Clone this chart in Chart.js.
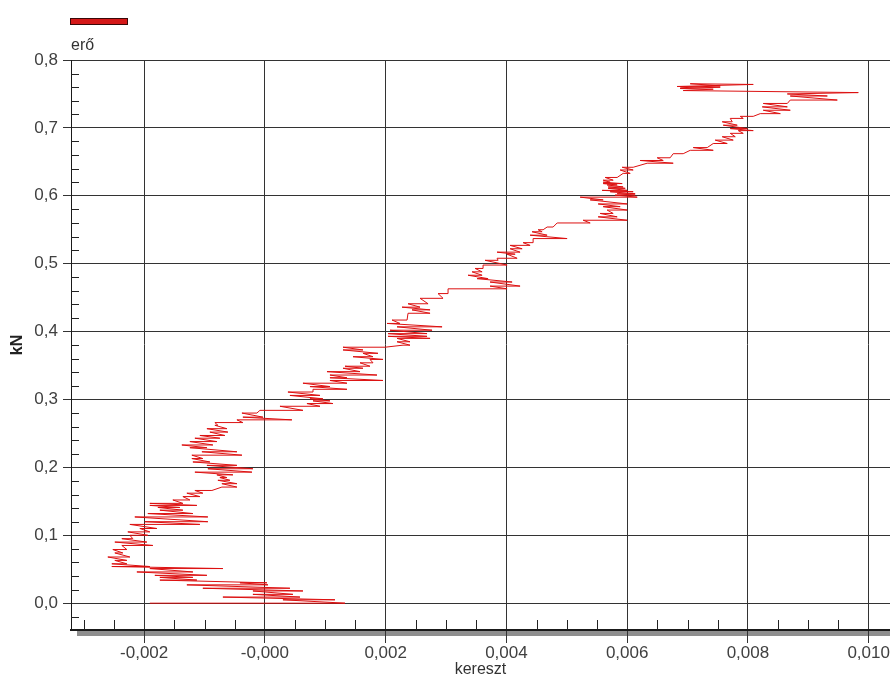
<!DOCTYPE html>
<html>
<head>
<meta charset="utf-8">
<title>erő – kereszt</title>
<script src="https://cdn.jsdelivr.net/npm/chart.js@4/dist/chart.umd.min.js"></script>
<style>
  html, body { margin: 0; padding: 0; background: #ffffff; }
  #wrap { width: 890px; height: 680px; }
</style>
</head>
<body>
<div id="wrap"><canvas id="chart" width="890" height="680"></canvas></div>
<script>
// Series and axis texts
const seriesName = 'erő';
const xTitle = 'kereszt';
const yTitle = 'kN';

// Tick values and their printed labels
const xTickValues = [-0.002, 0, 0.002, 0.004, 0.006, 0.008, 0.010];
const xTickLabels = ['-0,002', '-0,000', '0,002', '0,004', '0,006', '0,008', '0,010'];
const yTickValues = [0, 0.1, 0.2, 0.3, 0.4, 0.5, 0.6, 0.7, 0.8];
const yTickLabels = ['0,0', '0,1', '0,2', '0,3', '0,4', '0,5', '0,6', '0,7', '0,8'];

// Measured path: transverse displacement (kereszt) and force in kN (erő)
const kereszt = [
  -0.001906, 0.001326,  0.000298, 0.001160,  -0.000696, 0.000580,  -0.000199, 0.000464,  -0.000199, 0.000630,
  -0.001028, 0.000414,  -0.001293, 0.000050,  -0.000414, 0.000033,  -0.001740, -0.001127,  -0.001740, -0.001193,
  -0.001823, -0.000961,  -0.002121, -0.001193,  -0.001906, -0.000696,  -0.002536, -0.001906,  -0.002536, -0.002287,
  -0.002486, -0.002287,  -0.002602, -0.002237,  -0.002486, -0.002354,  -0.002519, -0.002287,  -0.002370, -0.001856,
  -0.002486, -0.001956,  -0.002370, -0.002188,  -0.002237, -0.001939,  -0.002271, -0.001906,  -0.002072, -0.001790,
  -0.002237, -0.001077,  -0.001989, -0.000945,  -0.002155, -0.000945,  -0.001939, -0.001193,  -0.001740, -0.001359,
  -0.001773, -0.001409,  -0.001906, -0.001127,  -0.001906, -0.001359,  -0.001525, -0.001243,  -0.001359, -0.001077,
  -0.001293, -0.001028,  -0.001160, -0.000878,  -0.000713, -0.000464,  -0.000713, -0.000464,  -0.000779, -0.000580,
  -0.000746, -0.000630,  -0.000796, -0.000530,  -0.001160, -0.000215,  -0.000945, -0.000199,  -0.000961, -0.000464,
  -0.001193, -0.000912,  -0.001210, -0.001028,  -0.001210, -0.000381,  -0.001044, -0.000464,  -0.001243, -0.000961,
  -0.001376, -0.000862,  -0.001243, -0.000796,  -0.001160, -0.000746,  -0.001077, -0.000663,  -0.000912, -0.000613,
  -0.000961, -0.000630,  -0.000829, -0.000779,  -0.000829, -0.000365,  -0.000464, 0.000447,  -0.000365, -0.000033,
  -0.000381, -0.000133,  -0.000083, 0.000630,  0.000249, 0.000912,  0.000696, 0.001127,  0.000796, 0.001077,
  0.000746, 0.000961,  0.000414, 0.000912,  0.000381, 0.000796,  0.000796, 0.001359,  0.000746, 0.001077,
  0.000630, 0.001359,  0.001077, 0.001956,  0.001077, 0.001359,  0.001077, 0.001856,  0.001028, 0.001575,
  0.001293, 0.001624,  0.001326, 0.001740,  0.001575, 0.001790,  0.001740, 0.001956,  0.001459, 0.001790,
  0.001624, 0.001873,  0.001293, 0.001624,  0.001293, 0.001989,  0.002287, 0.002403,  0.002188, 0.002403,
  0.002188, 0.002735,  0.002039, 0.002685,  0.002039, 0.002685,  0.002072, 0.002768,  0.002188, 0.002934,
  0.002022, 0.002237,  0.002105, 0.002354,  0.002370, 0.002735,  0.002436, 0.002735,  0.002271, 0.002569,
  0.002370, 0.002702,  0.002569, 0.002950,  0.002867, 0.003033,  0.003033, 0.004011,  0.003729, 0.004226,
  0.003729, 0.004094,  0.003514, 0.003696,  0.003365, 0.003597,  0.003431, 0.003597,  0.003481, 0.003613,
  0.003613, 0.004011,  0.003646, 0.003862,  0.003845, 0.004177,  0.004011, 0.004144,  0.003845, 0.004226,
  0.004061, 0.004260,  0.004061, 0.004392,  0.004276, 0.004442,  0.004442, 0.005005,  0.004392, 0.004674,
  0.004425, 0.004591,  0.004525, 0.004608,  0.004674, 0.004773,  0.004840, 0.005387,  0.005271, 0.006000,
  0.005519, 0.005834,  0.005552, 0.005768,  0.005668, 0.006000,  0.005602, 0.005884,  0.005519, 0.006000,
  0.005387, 0.005602,  0.005221, 0.006166,  0.005801, 0.006132,  0.005834, 0.006132,  0.005718, 0.006099,
  0.005585, 0.006000,  0.005685, 0.005967,  0.005685, 0.005933,  0.005668, 0.005834,  0.005602, 0.005917,
  0.005602, 0.005718,  0.005602, 0.005768,  0.005635, 0.005834,  0.005933, 0.006050,  0.005884, 0.006099,
  0.005917, 0.006099,  0.006331, 0.006762,  0.006215, 0.006597,  0.006497, 0.006712,  0.006762, 0.006928,
  0.007044, 0.007425,  0.007094, 0.007326,  0.007425, 0.007657,  0.007458, 0.007756,  0.007574, 0.007790,
  0.007707, 0.007922,  0.007840, 0.008088,  0.007707, 0.007989,  0.007591, 0.007823,  0.007574, 0.007740,
  0.007707, 0.007922,  0.007873, 0.008088,  0.008204, 0.008536,  0.008254, 0.008701,  0.008237, 0.008652,
  0.008254, 0.008652,  0.008701, 0.009480,  0.008701, 0.009315,
  0.008652, 0.009828, 0.006928, 0.007425, 0.006878, 0.007541, 0.006828, 0.008088, 0.007044, 0.007541, 0.006878
];

const ero = [
  0.000, 0.000,  0.005, 0.005,  0.009, 0.009,  0.013, 0.013,  0.018, 0.018,
  0.022, 0.022,  0.027, 0.027,  0.030, 0.030,  0.034, 0.034,  0.038, 0.038,
  0.041, 0.041,  0.046, 0.046,  0.051, 0.051,  0.054, 0.054,  0.058, 0.058,
  0.063, 0.063,  0.068, 0.068,  0.074, 0.074,  0.079, 0.079,  0.085, 0.085,
  0.090, 0.090,  0.095, 0.095,  0.100, 0.100,  0.105, 0.105,  0.110, 0.110,
  0.116, 0.116,  0.120, 0.120,  0.127, 0.127,  0.132, 0.132,  0.137, 0.137,
  0.141, 0.141,  0.144, 0.144,  0.147, 0.147,  0.152, 0.152,  0.157, 0.157,
  0.162, 0.162,  0.166, 0.166,  0.171, 0.171,  0.176, 0.176,  0.181, 0.181,
  0.185, 0.185,  0.189, 0.189,  0.193, 0.193,  0.198, 0.198,  0.203, 0.203,
  0.208, 0.208,  0.213, 0.213,  0.218, 0.218,  0.223, 0.223,  0.229, 0.229,
  0.233, 0.233,  0.238, 0.238,  0.243, 0.243,  0.247, 0.247,  0.252, 0.252,
  0.257, 0.257,  0.262, 0.262,  0.266, 0.266,  0.270, 0.270,  0.274, 0.274,
  0.280, 0.280,  0.284, 0.284,  0.290, 0.290,  0.294, 0.294,  0.298, 0.298,
  0.301, 0.301,  0.306, 0.306,  0.311, 0.311,  0.315, 0.315,  0.319, 0.319,
  0.324, 0.324,  0.328, 0.328,  0.332, 0.332,  0.336, 0.336,  0.341, 0.341,
  0.346, 0.346,  0.349, 0.349,  0.354, 0.354,  0.359, 0.359,  0.363, 0.363,
  0.368, 0.368,  0.373, 0.373,  0.377, 0.377,  0.380, 0.380,  0.385, 0.385,
  0.390, 0.390,  0.393, 0.393,  0.397, 0.397,  0.402, 0.402,  0.407, 0.407,
  0.412, 0.412,  0.417, 0.417,  0.427, 0.427,  0.432, 0.432,  0.436, 0.436,
  0.441, 0.441,  0.449, 0.449,  0.456, 0.456,  0.463, 0.463,  0.467, 0.467,
  0.473, 0.473,  0.478, 0.478,  0.483, 0.483,  0.488, 0.488,  0.493, 0.493,
  0.498, 0.498,  0.505, 0.505,  0.508, 0.508,  0.514, 0.514,  0.517, 0.517,
  0.522, 0.522,  0.527, 0.527,  0.531, 0.531,  0.537, 0.537,  0.542, 0.542,
  0.547, 0.547,  0.550, 0.550,  0.554, 0.554,  0.560, 0.560,  0.564, 0.564,
  0.569, 0.569,  0.574, 0.574,  0.579, 0.579,  0.584, 0.584,  0.588, 0.588,
  0.594, 0.594,  0.598, 0.598,  0.601, 0.601,  0.603, 0.603,  0.606, 0.606,
  0.608, 0.608,  0.611, 0.611,  0.613, 0.613,  0.616, 0.616,  0.618, 0.618,
  0.620, 0.620,  0.623, 0.623,  0.627, 0.627,  0.633, 0.633,  0.638, 0.638,
  0.642, 0.642,  0.648, 0.648,  0.652, 0.652,  0.656, 0.656,  0.662, 0.662,
  0.667, 0.667,  0.671, 0.671,  0.677, 0.677,  0.682, 0.682,  0.687, 0.687,
  0.692, 0.692,  0.696, 0.696,  0.699, 0.699,  0.704, 0.704,  0.709, 0.709,
  0.714, 0.714,  0.717, 0.717,  0.721, 0.721,  0.726, 0.726,  0.731, 0.731,
  0.736, 0.736,  0.741, 0.741,  0.747, 0.747,
  0.750, 0.752, 0.755, 0.757, 0.758, 0.760, 0.761, 0.764, 0.765, 0.762, 0.759
];

const FONT = "'Liberation Sans', Arial, Helvetica, sans-serif";
const LINE_RED = '#dc1010';

// Extra axis furniture: shadow under the x axis, minor ticks and the legend swatch
const axisDecor = {
  id: 'axisDecor',
  beforeDraw(chart) {
    const { ctx, chartArea } = chart;
    ctx.save();
    ctx.fillStyle = '#8e8e8e';
    ctx.fillRect(chartArea.left + 6, chartArea.bottom + 1, chart.width - chartArea.left - 6, 5);
    ctx.restore();
  },
  beforeDatasetsDraw(chart) {
    const { ctx, chartArea, scales } = chart;
    const xs = scales.x, ys = scales.y;
    ctx.save();
    ctx.strokeStyle = '#222';
    ctx.lineWidth = 1;
    ctx.beginPath();
    // minor ticks on y every 0.02
    for (let k = Math.ceil(ys.min / 0.02); k <= Math.floor(ys.max / 0.02 + 1e-9); k++) {
      if (k % 5 === 0) continue;
      const py = Math.round(ys.getPixelForValue(k * 0.02)) + 0.5;
      ctx.moveTo(chartArea.left, py);
      ctx.lineTo(chartArea.left + 8, py);
    }
    // minor ticks on x every 0.0005
    for (let k = Math.ceil(xs.min / 0.0005); k <= Math.floor(xs.max / 0.0005); k++) {
      if (k % 4 === 0) continue;
      const px = Math.round(xs.getPixelForValue(k * 0.0005)) + 0.5;
      ctx.moveTo(px, chartArea.bottom);
      ctx.lineTo(px, chartArea.bottom - 10);
    }
    ctx.stroke();
    ctx.restore();
  },
  afterDraw(chart) {
    const { ctx } = chart;
    const ds = chart.data.datasets[0];
    ctx.save();
    ctx.fillStyle = '#d41818';
    ctx.strokeStyle = '#3a0808';
    ctx.lineWidth = 1;
    ctx.fillRect(70.5, 18.5, 57, 6);
    ctx.strokeRect(70.5, 18.5, 57, 6);
    ctx.fillStyle = '#333';
    ctx.font = '16px ' + FONT;
    ctx.textBaseline = 'alphabetic';
    ctx.textAlign = 'left';
    ctx.fillText(ds.label, 71, 50);
    ctx.restore();
  }
};

const points = kereszt.map((x, i) => ({ x: x, y: ero[i] }));

new Chart(document.getElementById('chart').getContext('2d'), {
  type: 'scatter',
  data: {
    datasets: [{
      label: seriesName,
      data: points,
      showLine: true,
      borderColor: LINE_RED,
      borderWidth: 1,
      pointRadius: 0,
      pointHoverRadius: 0,
      tension: 0,
      fill: false
    }]
  },
  options: {
    responsive: false,
    devicePixelRatio: 1,
    animation: false,
    events: [],
    layout: { padding: { top: 60, left: 0, right: 0, bottom: 0 } },
    plugins: {
      legend: { display: false },
      tooltip: { enabled: false }
    },
    scales: {
      x: {
        type: 'linear',
        min: -0.003212,
        max: 0.010353,
        afterBuildTicks: (s) => { s.ticks = xTickValues.map(v => ({ value: v })); },
        afterFit: (s) => { s.height = 50; },
        ticks: {
          callback: (v, i) => xTickLabels[i],
          font: { family: FONT, size: 17 },
          color: '#404040',
          padding: 0,
          maxRotation: 0,
          autoSkip: false
        },
        grid: { color: '#333', lineWidth: 1, tickLength: 13, drawTicks: true },
        border: { display: true, color: '#1a1a1a', width: 2 },
        title: {
          display: true,
          text: xTitle,
          font: { family: FONT, size: 16 },
          color: '#333',
          padding: { top: 0, bottom: 1 }
        }
      },
      y: {
        type: 'linear',
        min: -0.0395,
        max: 0.8,
        afterBuildTicks: (s) => { s.ticks = yTickValues.map(v => ({ value: v })); },
        afterFit: (s) => { s.width = 71; },
        ticks: {
          callback: (v, i) => yTickLabels[i],
          font: { family: FONT, size: 17 },
          color: '#404040',
          padding: 5,
          autoSkip: false
        },
        grid: { color: '#333', lineWidth: 1, tickLength: 8, drawTicks: true },
        border: { display: true, color: '#1a1a1a', width: 1 },
        title: {
          display: true,
          text: yTitle,
          font: { family: FONT, size: 16, weight: 'bold' },
          color: '#222',
          padding: { top: 8, bottom: 0 }
        }
      }
    }
  },
  plugins: [axisDecor]
});
</script>
</body>
</html>
